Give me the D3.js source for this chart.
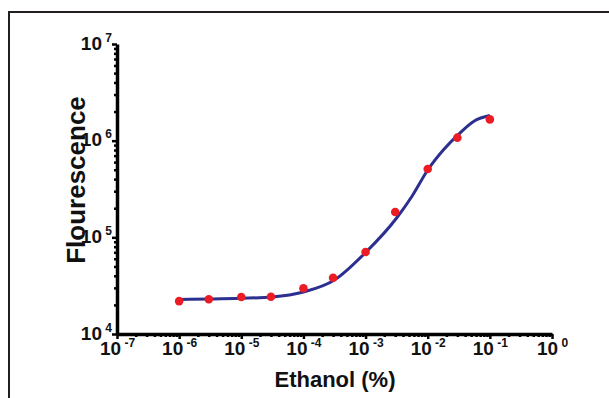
<!DOCTYPE html>
<html>
<head>
<meta charset="utf-8">
<script src="https://cdn.jsdelivr.net/npm/d3@7"></script>
<style>
  body { margin: 0; background: #fff; }
  svg { display: block; font-family: "Liberation Sans", Arial, sans-serif; }
  .axis path, .axis line { stroke: #000; }
  .axis text { font-weight: bold; fill: #111; }
</style>
</head>
<body>
<script>
// measured points (ethanol %, fluorescence)
var ethanol = [1e-6, 3e-6, 1e-5, 3e-5, 1e-4, 3e-4, 1e-3, 3e-3, 1e-2, 3e-2, 1e-1];
var fluor = [21900, 22850, 24100, 24300, 29700, 38200, 70500, 183000, 509000, 1074000, 1660000];

// fitted curve
var fitX = [1e-6, 3.16e-6, 1e-5, 3.16e-5, 1e-4, 3.16e-4, 1e-3, 3.16e-3, 5.62e-3, 1e-2, 1.78e-2, 3.16e-2, 5.62e-2, 1e-1];
var fitY = [22750, 23000, 23400, 24150, 27200, 36200, 69700, 158500, 267700, 497000, 800000, 1170000, 1600000, 1820000];

// axis ticks (powers of ten)
var xTickExps = [-7, -6, -5, -4, -3, -2, -1, 0];
var yTickExps = [4, 5, 6, 7];

var width = 609, height = 398;

var svg = d3.select("body").append("svg")
    .attr("width", width)
    .attr("height", height);

// frame round the figure (runs off the page right and bottom)
svg.append("rect")
    .attr("x", 9).attr("y", 12)
    .attr("width", 700).attr("height", 500)
    .attr("fill", "none")
    .attr("stroke", "#231f20")
    .attr("stroke-width", 2);

var x = d3.scaleLog().domain([1e-7, 1]).range([117, 552]);
var y = d3.scaleLog().domain([1e4, 1e7]).range([334, 44]);

function minors(lo, hi) {
  var out = [];
  for (var e = lo; e < hi; e++) {
    for (var k = 2; k <= 9; k++) out.push(k * Math.pow(10, e));
  }
  return out;
}

function supLabel(sel, exps) {
  sel.each(function(d, i) {
    var t = d3.select(this);
    t.text(null);
    t.append("tspan").text("10").style("font-size", "19px");
    t.append("tspan").text(exps[i] < 0 ? " -" + (-exps[i]) : " " + exps[i])
      .style("font-size", "12px")
      .attr("dy", -8);
  });
}

// x axis
svg.append("g")
    .attr("class", "axis")
    .attr("transform", "translate(0,334)")
    .call(d3.axisBottom(x).tickValues(minors(-7, 0)).tickSize(3).tickSizeOuter(0).tickFormat(""))
    .call(function(g) { g.select(".domain").remove(); })
    .selectAll("line").attr("stroke-width", 2.5);

var xg = svg.append("g")
    .attr("class", "axis")
    .attr("transform", "translate(0,334)")
    .call(d3.axisBottom(x)
      .tickValues(xTickExps.map(function(e) { return Math.pow(10, e); }))
      .tickSize(5).tickSizeOuter(0));
xg.select(".domain").attr("stroke-width", 3.5);
xg.selectAll("line").attr("stroke-width", 2.5);
xg.selectAll("text")
    .attr("y", 21).attr("dy", 0)
    .call(supLabel, xTickExps);

// y axis
svg.append("g")
    .attr("class", "axis")
    .attr("transform", "translate(117,0)")
    .call(d3.axisLeft(y).tickValues(minors(4, 7)).tickSize(3).tickSizeOuter(0).tickFormat(""))
    .call(function(g) { g.select(".domain").remove(); })
    .selectAll("line").attr("stroke-width", 2.5);

var yg = svg.append("g")
    .attr("class", "axis")
    .attr("transform", "translate(117,0)")
    .call(d3.axisLeft(y)
      .tickValues(yTickExps.map(function(e) { return Math.pow(10, e); }))
      .tickSize(5).tickSizeOuter(0));
yg.select(".domain").attr("stroke-width", 3.5);
yg.selectAll("line").attr("stroke-width", 2.5);
yg.selectAll("text")
    .attr("x", -5).attr("y", 5).attr("dy", 0)
    .call(supLabel, yTickExps);

// axis titles
svg.append("text")
    .attr("transform", "translate(85,180) rotate(-90)")
    .attr("text-anchor", "middle")
    .attr("font-size", 26)
    .attr("font-weight", "bold")
    .attr("fill", "#111")
    .text("Flourescence");

svg.append("text")
    .attr("x", 335).attr("y", 387)
    .attr("text-anchor", "middle")
    .attr("font-size", 22)
    .attr("font-weight", "bold")
    .attr("fill", "#111")
    .text("Ethanol (%)");

// fitted curve
var line = d3.line()
    .x(function(d, i) { return x(fitX[i]); })
    .y(function(d) { return y(d); })
    .curve(d3.curveMonotoneX);

svg.append("path")
    .datum(fitY)
    .attr("d", line)
    .attr("fill", "none")
    .attr("stroke", "#2b2f8f")
    .attr("stroke-width", 3);

// data points
svg.selectAll(".dot")
    .data(fluor)
  .enter().append("circle")
    .attr("class", "dot")
    .attr("cx", function(d, i) { return x(ethanol[i]); })
    .attr("cy", function(d) { return y(d); })
    .attr("r", 4.3)
    .attr("fill", "#ec1c24");
</script>
</body>
</html>
